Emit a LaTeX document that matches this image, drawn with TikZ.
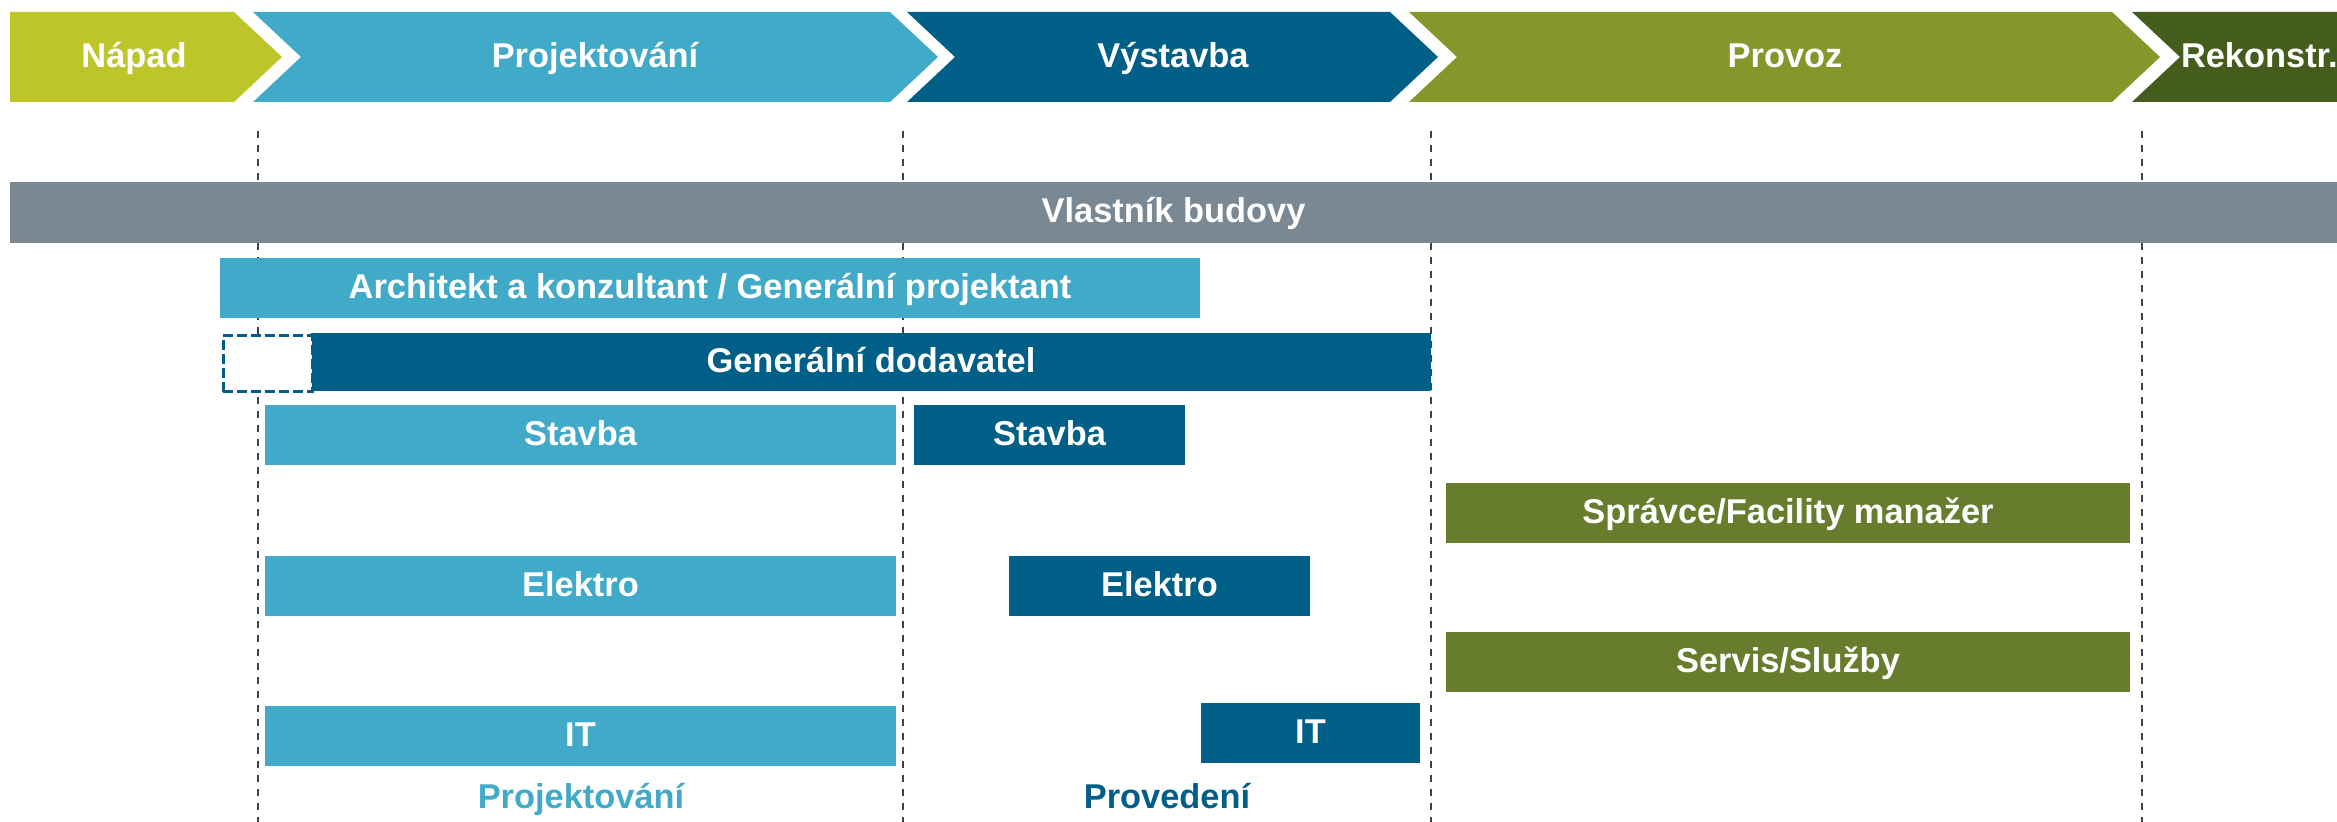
\documentclass[tikz,border=0pt]{standalone}
\usepackage{fontspec}
\setmainfont{Liberation Sans}

\newlength{\du}
\setlength{\du}{0.5pt}

\definecolor{napadcolor}{RGB}{190,197,42}
\definecolor{lightblue}{RGB}{66,170,201}
\definecolor{darkblue}{RGB}{0,95,135}
\definecolor{provozcolor}{RGB}{134,150,43}
\definecolor{rekoncolor}{RGB}{69,93,28}
\definecolor{ownercolor}{RGB}{122,136,147}
\definecolor{fmcolor}{RGB}{103,124,44}
\definecolor{gridcolor}{RGB}{60,66,74}

\tikzset{
  phasetext/.style={text=white,font=\fontsize{17.2pt}{20pt}\selectfont\bfseries,
    inner sep=0pt,outer sep=0pt,text height=12.3pt,text depth=2pt},
  bar/.style={phasetext,anchor=north west,minimum height=60\du},
  gridline/.style={draw=gridcolor,line width=2.5\du,dash pattern=on 7\du off 7\du},
}

\begin{document}
\begin{tikzpicture}
\pgftransformyscale{-1.000000}
\useasboundingbox (0\du,0\du) rectangle (2337\du,822\du);
% phase lines
\draw[gridline] (258\du,131\du)--(258\du,822\du);
\draw[gridline] (903\du,131\du)--(903\du,822\du);
\draw[gridline] (1431\du,131\du)--(1431\du,822\du);
\draw[gridline] (2142\du,131\du)--(2142\du,822\du);
% phases
\fill[napadcolor] (10\du,12\du)--(234\du,12\du)--(282\du,57\du)--(234\du,102\du)--(10\du,102\du)--cycle;
\fill[lightblue] (253\du,12\du)--(890\du,12\du)--(938\du,57\du)--(890\du,102\du)--(253\du,102\du)--(301\du,57\du)--cycle;
\fill[darkblue] (907\du,12\du)--(1390\du,12\du)--(1438\du,57\du)--(1390\du,102\du)--(907\du,102\du)--(955\du,57\du)--cycle;
\fill[provozcolor] (1409\du,12\du)--(2112\du,12\du)--(2160\du,57\du)--(2112\du,102\du)--(1409\du,102\du)--(1457\du,57\du)--cycle;
\fill[rekoncolor] (2132\du,12\du)--(2337\du,12\du)--(2337\du,102\du)--(2132\du,102\du)--(2180\du,57\du)--cycle;
\node[phasetext] (napad) at (134\du,57\du) {Nápad};
\node[phasetext] (projekt) at (595\du,57\du) {Projektování};
\node[phasetext] (vystavba) at (1173\du,57\du) {Výstavba};
\node[phasetext] (provoz) at (1785\du,57\du) {Provoz};
\node[phasetext,anchor=west] (rekon) at (2181\du,57\du) {Rekonstr.};
% roles
\node[bar,fill=ownercolor,minimum width=2327\du,minimum height=61\du] (owner) at (10\du,182\du) {Vlastník budovy};
\node[bar,fill=lightblue,minimum width=980\du] (architect) at (220\du,258\du) {Architekt a konzultant / Generální projektant};
\node[bar,fill=darkblue,minimum width=1120\du,minimum height=58\du] (gc) at (311\du,333\du) {Generální dodavatel};
\node[draw=darkblue,fill=white,line width=3\du,dash pattern=on 10\du off 4\du,anchor=north west,
  inner sep=0pt,minimum width=89\du,minimum height=56\du] (gcbox) at (221.5\du,334.5\du) {};
\node[bar,fill=lightblue,minimum width=631\du] (stavbap) at (265\du,405\du) {Stavba};
\node[bar,fill=darkblue,minimum width=271\du] (stavbad) at (914\du,405\du) {Stavba};
\node[bar,fill=fmcolor,minimum width=684\du] (fm) at (1446\du,483\du) {Správce/Facility manažer};
\node[bar,fill=lightblue,minimum width=631\du] (elektrop) at (265\du,556\du) {Elektro};
\node[bar,fill=darkblue,minimum width=301\du] (elektrod) at (1009\du,556\du) {Elektro};
\node[bar,fill=fmcolor,minimum width=684\du] (servis) at (1446\du,632\du) {Servis/Služby};
\node[bar,fill=lightblue,minimum width=631\du] (itp) at (265\du,706\du) {IT};
\node[bar,fill=darkblue,minimum width=219\du] (itd) at (1201\du,703\du) {IT};
\node[phasetext,text=lightblue] (lblprojekt) at (581\du,798\du) {Projektování};
\node[phasetext,text=darkblue] (lblproved) at (1167\du,798\du) {Provedení};
\end{tikzpicture}
\end{document}
